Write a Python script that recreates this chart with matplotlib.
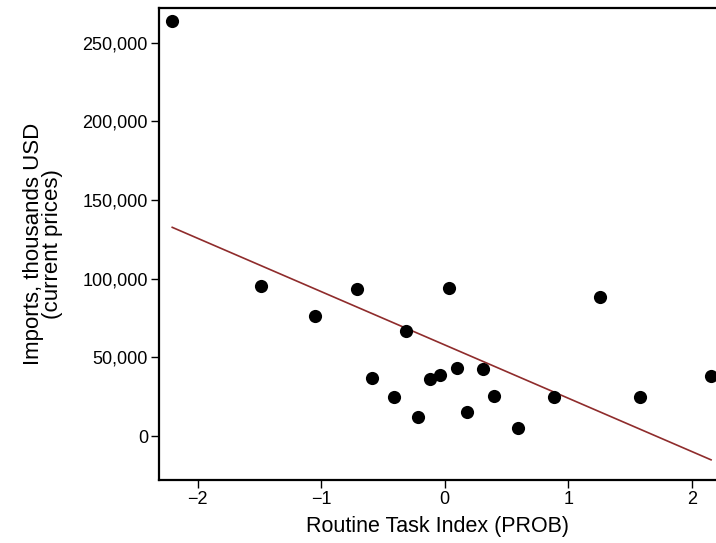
import matplotlib
matplotlib.use("Agg")
import matplotlib.pyplot as plt
from matplotlib.ticker import FuncFormatter
import numpy as np

# Routine task index (x) vs imports (y)
rti = [-2.206, -1.491, -1.051, -0.706, -0.314, -0.585, -0.410, -0.219, -0.115, -0.041,
       0.036, 0.102, 0.179, 0.313, 0.396, 0.592, 0.883, 1.257, 1.578, 2.157]
imports = [264020, 95360, 76100, 93450, 66940, 37060, 24790, 12270, 36040, 38780,
           93900, 43040, 15070, 42600, 25430, 5090, 25000, 88560, 24600, 38140]

x_ticks = [-2, -1, 0, 1, 2]
y_ticks = [0, 50000, 100000, 150000, 200000, 250000]

plt.rcParams['font.family'] = ['Liberation Sans', 'DejaVu Sans']

fig = plt.figure(figsize=(7.16, 5.43), dpi=100)
ax = fig.add_axes([0.2221, 0.116, 0.7779, 0.8693])

ax.scatter(rti, imports, s=90, color='black', zorder=3, linewidths=0)

# linear fit over the data range
slope, intercept = np.polyfit(rti, imports, 1)
xs = np.array([min(rti), max(rti)])
ax.plot(xs, intercept + slope * xs, color='#8f2c2c', lw=1.2, zorder=2)

ax.set_xlim(-2.313, 2.197)
ax.set_ylim(-27970, 272060)
ax.set_xticks(x_ticks)
ax.set_yticks(y_ticks)
ax.xaxis.set_major_formatter(FuncFormatter(lambda v, p: f"{int(v)}".replace('-', '\u2212')))
ax.yaxis.set_major_formatter(FuncFormatter(lambda v, p: f"{int(v):,}"))
ax.tick_params(labelsize=13, length=6, width=1, direction='out', pad=2)

for side in ['left', 'bottom', 'top']:
    ax.spines[side].set_linewidth(1.6)
ax.spines['right'].set_visible(False)

ax.set_xlabel("Routine Task Index (PROB)", fontsize=15.5, labelpad=6)
ax.set_ylabel("Imports, thousands USD\n(current prices)", fontsize=16, labelpad=14,
              linespacing=0.9)

plt.savefig("out.png", dpi=100)
